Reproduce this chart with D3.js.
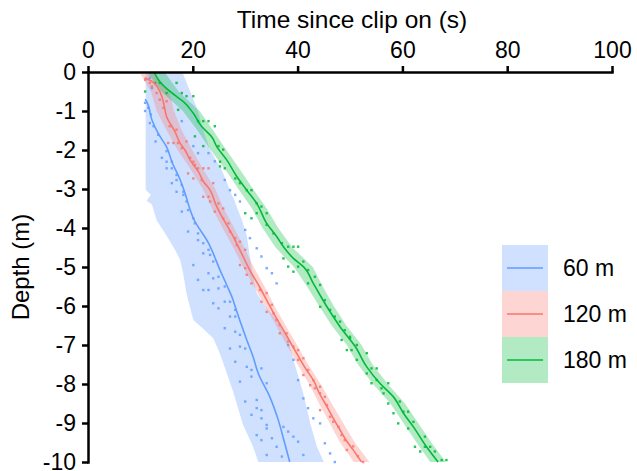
<!DOCTYPE html>
<html>
<head>
<meta charset="utf-8">
<style>
body { margin: 0; background: #fff; }
svg text { font-family: "Liberation Sans", Arial, sans-serif; fill: #000; }
.axis path, .axis line { stroke: #000; stroke-width: 2.5; }
</style>
</head>
<body>
<svg id="chart" width="637" height="471"></svg>
<script src="https://cdn.jsdelivr.net/npm/d3@7"></script>
<script>
// series labels / colours
var seriesNames = ["60 m", "120 m", "180 m"];
var seriesColors = ["#619CFF", "#F8766D", "#00BA38"];
var xTicks = [0, 20, 40, 60, 80, 100];
var yTicks = [0, -1, -2, -3, -4, -5, -6, -7, -8, -9, -10];

// ribbons: [depth, low time, high time]
var band60 = [[0,11.0,18.0],[-0.5,11.0,19.5],[-1,11.0,21.0],[-1.5,11.0,22.0],[-2,11.0,23.3],[-2.5,11.0,25.5],
  [-3,11.0,27.0],[-3.05,11.2,27.2],[-3.15,12.0,27.4],[-3.3,11.2,28.0],[-3.4,12.2,28.2],[-3.8,13.1,29.4],[-4.2,15.0,30.3],
  [-4.56,16.6,30.7],[-4.82,17.6,31.0],[-5.2,18.2,31.4],[-5.67,18.8,32.2],[-6.0,19.4,33.8],[-6.36,20.1,36.0],
  [-6.62,22.3,37.2],[-6.83,23.9,38.0],[-7.13,24.9,38.7],[-7.38,25.6,39.2],[-8.2,27.7,41.0],[-9.05,29.6,42.5],
  [-9.61,31.5,43.7],[-10,32.5,45.0]];
var band120 = [[-0.05,10.0,12.8],[-0.5,12.0,15.5],[-1,13.1,16.4],[-1.5,15.0,17.9],[-2,17.1,19.9],[-2.5,19.6,22.0],
  [-3,21.9,24.3],[-3.5,23.7,25.9],[-4,25.7,27.9],[-4.5,27.7,29.8],[-5,29.6,31.6],[-5.5,31.7,33.7],[-6,33.8,35.6],
  [-6.5,35.9,37.7],[-7,37.9,39.9],[-7.5,40.0,42.0],[-8,42.2,44.4],[-8.5,44.1,46.5],[-9,46.1,48.7],[-9.5,48.1,50.9],
  [-10,50.7,53.7]];
var band180 = [[0,11.3,14.6],[-0.5,14.0,17.3],[-1,18.1,21.3],[-1.5,20.9,23.9],[-2,23.4,26.4],[-2.5,26.2,29.0],
  [-3,28.7,31.5],[-3.5,31.3,34.1],[-4,33.3,36.3],[-4.5,35.8,39.0],[-5,39.3,42.9],[-5.5,41.8,44.8],[-6,44.1,46.9],
  [-6.5,46.5,49.3],[-7,49.4,52.2],[-7.5,51.5,54.3],[-8,54.4,57.2],[-8.5,57.7,60.5],[-9,60.2,63.0],[-9.5,62.7,65.5],
  [-10,65.3,68.3]];

// mean lines: [time, depth]
var line60 = [[10.9,-0.7],[11.2,-0.76],[12.2,-1.23],[13.5,-1.6],[15.0,-1.92],[16.0,-2.3],[17.6,-2.77],[18.5,-3.1],
  [19.5,-3.54],[20.1,-3.75],[23.0,-4.39],[25.2,-5.08],[26.6,-5.5],[27.7,-5.85],[28.1,-6.02],[30.3,-6.87],
  [31.5,-7.3],[32.5,-7.73],[34.7,-8.33],[36.3,-8.92],[37.5,-9.5],[38.5,-10]];
var line120 = [[10.8,-0.15],[12.3,-0.25],[13.3,-0.4],[14.1,-0.63],[14.6,-0.9],[15.0,-1.15],[16.6,-1.53],[17.6,-1.83],
  [18.5,-2.0],[19.5,-2.26],[21.1,-2.56],[22.0,-2.8],[23.3,-3.03],[24.4,-3.4],[25.2,-3.62],[27.4,-4.14],[29.3,-4.65],
  [31.2,-5.16],[32.7,-5.5],[34.1,-5.85],[35.5,-6.2],[37.3,-6.62],[39.8,-7.21],[41.5,-7.6],[43.0,-7.9],[44.2,-8.25],
  [45.6,-8.58],[46.9,-8.9],[48.1,-9.18],[49.3,-9.45],[50.6,-9.69],[52.2,-10]];
var line180 = [[12.6,0],[13.7,-0.25],[15.3,-0.46],[16.9,-0.63],[18.2,-0.76],[20.1,-1.06],[21.7,-1.4],[23.6,-1.66],
  [24.6,-1.92],[26.5,-2.26],[28.4,-2.68],[30.3,-3.03],[32.2,-3.37],[34.1,-3.88],[36.0,-4.22],[37.3,-4.48],
  [39.2,-4.78],[41.1,-4.99],[43.0,-5.42],[45.6,-6.02],[48.1,-6.53],[51.0,-7.04],[53.2,-7.56],[55.7,-7.98],
  [58.3,-8.33],[60.2,-8.75],[62.1,-9.1],[64.6,-9.61],[66.8,-10]];

// observations: [time, depth]
var pts60 = [[10.9,-0.79],[10.9,-1.0],[11.5,-0.92],[12.0,-1.09],[11.8,-1.31],[12.5,-1.39],[12.9,-1.78],[13.4,-1.61],
  [14.1,-2.2],[15.0,-2.03],[11.8,-0.15],[12.2,-0.41],[17.9,-1.26],[20.1,-1.9],[21.0,-2.08],[23.0,-2.08],[24.2,-2.29],
  [15.0,-2.3],[16.0,-2.3],[15.0,-2.47],[16.0,-2.47],[16.9,-2.64],[16.9,-2.77],[16.0,-2.85],[17.9,-2.9],[16.9,-3.07],
  [18.2,-3.07],[18.2,-3.15],[18.8,-3.32],[17.9,-3.58],[19.1,-3.54],[20.1,-3.75],[20.4,-3.88],[19.1,-4.09],[21.0,-4.14],
  [21.0,-4.31],[22.0,-4.39],[23.0,-4.56],[22.0,-4.65],[23.3,-4.69],[26.1,-2.77],[27.1,-3.03],[28.1,-3.15],[29.0,-3.32],
  [30.0,-4.05],[30.9,-4.26],[32.2,-4.52],[33.1,-4.73],[20.1,-4.95],[23.9,-4.86],[21.0,-5.33],[23.0,-5.16],[23.9,-5.29],
  [24.9,-5.25],[22.0,-5.59],[23.0,-5.59],[24.9,-5.55],[26.1,-5.5],[23.9,-5.93],[26.1,-5.89],[27.1,-5.89],[24.9,-6.06],
  [28.1,-6.1],[27.1,-6.27],[28.1,-6.27],[26.1,-6.57],[28.1,-6.66],[29.0,-6.74],[27.1,-7.09],[29.0,-7.04],[30.0,-7.09],
  [34.1,-5.03],[35.1,-5.16],[36.0,-5.42],[38.2,-7.0],[28.1,-7.43],[30.3,-7.56],[31.2,-7.64],[33.1,-7.6],[31.2,-7.81],
  [29.0,-7.94],[34.1,-7.98],[30.0,-8.45],[32.2,-8.41],[32.2,-8.62],[33.1,-8.67],[31.2,-8.79],[33.1,-8.88],[34.1,-9.05],
  [34.1,-9.14],[37.3,-9.1],[38.2,-9.22],[32.2,-9.31],[35.1,-9.39],[33.1,-9.44],[39.2,-9.35],[40.1,-9.48],[36.0,-9.61],
  [34.1,-9.82],[37.0,-9.86],[41.1,-9.82],[39.2,-7.38],[40.1,-7.9],[41.1,-8.37],[42.0,-8.62],[43.0,-8.88],[44.3,-9.01],
  [45.2,-9.52],[46.2,-9.78],[47.1,-10.0]];
var pts120 = [[10.9,-0.2],[11.8,-0.28],[12.2,-0.37],[13.1,-0.54],[13.7,-0.71],[14.4,-0.92],[15.0,-0.75],[15.6,-1.39],
  [15.3,-1.82],[16.3,-1.82],[17.2,-1.82],[17.9,-1.95],[16.9,-1.48],[18.8,-1.78],[19.5,-2.2],[20.4,-2.38],[19.1,-2.6],
  [20.1,-2.73],[20.1,-2.3],[21.0,-2.47],[22.0,-2.47],[23.0,-2.47],[21.7,-2.77],[23.9,-2.85],[22.0,-3.2],[23.0,-3.2],
  [23.3,-3.32],[24.9,-3.37],[24.2,-3.58],[25.8,-3.5],[25.8,-3.75],[26.8,-3.88],[27.1,-4.09],[28.1,-4.26],[29.0,-4.35],
  [28.4,-4.44],[30.0,-4.56],[29.0,-4.95],[30.0,-5.03],[30.3,-5.2],[31.2,-5.42],[32.8,-5.59],[33.1,-5.89],[34.1,-5.67],
  [34.1,-6.15],[35.1,-5.97],[35.4,-6.19],[36.0,-6.36],[36.6,-6.49],[36.6,-6.7],[37.9,-6.7],[38.2,-6.91],[39.2,-7.04],
  [40.1,-7.13],[40.1,-7.38],[41.1,-7.34],[41.1,-7.77],[42.0,-7.64],[43.0,-7.9],[42.4,-8.03],[43.3,-8.11],[44.3,-8.07],
  [44.3,-8.24],[45.2,-8.33],[44.3,-8.67],[45.6,-8.54],[46.2,-8.84],[46.8,-8.97],[47.8,-9.1],[48.4,-9.31],[49.0,-9.44],
  [49.4,-9.69],[50.6,-9.6],[51.5,-9.85],[52.5,-10.0]];
var pts180 = [[10.9,-0.5],[12.8,-0.28],[13.7,-0.28],[15.0,-0.54],[16.9,-0.28],[17.9,-0.54],[18.8,-0.62],[20.1,-0.62],
  [17.2,-0.97],[21.0,-1.26],[22.0,-1.26],[23.0,-1.26],[20.4,-1.65],[22.0,-1.9],[24.2,-1.39],[24.9,-1.9],[25.8,-1.99],
  [25.2,-2.42],[25.2,-2.3],[26.1,-2.47],[28.1,-2.73],[29.0,-2.85],[30.3,-3.03],[31.2,-3.03],[30.0,-3.62],[31.2,-3.75],
  [32.2,-3.37],[33.1,-3.45],[32.2,-3.62],[34.1,-3.62],[34.1,-3.92],[35.4,-4.14],[37.0,-4.39],[37.3,-4.78],[38.2,-4.48],
  [39.2,-4.48],[40.1,-4.48],[38.2,-4.99],[39.2,-5.12],[40.1,-4.99],[41.1,-4.86],[42.0,-5.08],[43.3,-5.25],[44.3,-5.46],
  [42.0,-5.42],[45.2,-5.85],[44.3,-6.02],[46.2,-6.1],[47.1,-6.27],[48.1,-6.4],[49.0,-6.62],[50.0,-6.79],[48.4,-6.87],
  [51.3,-7.0],[49.4,-7.13],[50.3,-7.13],[51.3,-7.38],[50.0,-6.83],[53.2,-7.21],[53.2,-7.73],[54.1,-7.6],[55.1,-7.6],
  [54.1,-7.98],[55.1,-7.9],[56.0,-8.11],[56.4,-8.24],[57.3,-7.98],[57.3,-8.5],[58.3,-8.75],[59.2,-9.01],[59.5,-8.45],
  [60.2,-8.71],[61.1,-8.71],[61.1,-9.14],[62.1,-8.97],[64.3,-9.35],[62.4,-9.61],[63.4,-9.73],[64.3,-9.61],[65.3,-9.61],
  [66.2,-9.73],[67.5,-9.95],[68.4,-9.95]];

var svg = d3.select("#chart");

var x = d3.scaleLinear().domain([0, 100]).range([88, 612]);
var y = d3.scaleLinear().domain([0, -10]).range([72, 462]);

var bands = [band60, band120, band180];
var lines = [line60, line120, line180];
var pts = [pts60, pts120, pts180];

var area = d3.area()
  .y(function (d) { return y(d[0]); })
  .x0(function (d) { return x(d[1]); })
  .x1(function (d) { return x(d[2]); });

var line = d3.line()
  .x(function (d) { return x(d[0]); })
  .y(function (d) { return y(d[1]); })
  .curve(d3.curveMonotoneY);

var plot = svg.append("g");

bands.forEach(function (b, i) {
  plot.append("path")
    .attr("d", area(b))
    .attr("fill", seriesColors[i])
    .attr("fill-opacity", 0.3);
});

pts.forEach(function (p, i) {
  plot.selectAll(null)
    .data(p)
    .enter()
    .append("rect")
      .attr("x", function (d) { return x(d[0]) - 1.2; })
      .attr("y", function (d) { return y(d[1]) - 1.2; })
      .attr("width", 2.4)
      .attr("height", 2.4)
      .attr("fill", seriesColors[i])
      .attr("fill-opacity", 0.85);
});

lines.forEach(function (l, i) {
  plot.append("path")
    .attr("d", line(l))
    .attr("fill", "none")
    .attr("stroke", seriesColors[i])
    .attr("stroke-width", 1.6);
});

// axes
var fmt = function (d) { return String(d); };

svg.append("g")
  .attr("class", "axis")
  .attr("transform", "translate(0,72)")
  .call(d3.axisTop(x).tickValues(xTicks).tickSize(6).tickSizeOuter(0).tickPadding(8).tickFormat(fmt))
  .call(function (g) { g.selectAll("text").attr("font-size", 23).attr("font-family", null); });

svg.append("g")
  .attr("class", "axis")
  .attr("transform", "translate(88,0)")
  .call(d3.axisLeft(y).tickValues(yTicks).tickSize(6).tickSizeOuter(0).tickPadding(6).tickFormat(fmt))
  .call(function (g) { g.selectAll("text").attr("font-size", 23).attr("font-family", null); });

svg.selectAll(".axis .domain").attr("stroke-linecap", "square");

svg.append("text")
  .attr("x", 352)
  .attr("y", 28)
  .attr("text-anchor", "middle")
  .attr("font-size", 24.5)
  .text("Time since clip on (s)");

svg.append("text")
  .attr("transform", "translate(29,267) rotate(-90)")
  .attr("text-anchor", "middle")
  .attr("font-size", 24)
  .text("Depth (m)");

// legend
var legend = svg.append("g").attr("transform", "translate(502,245)");
var keyH = 46;
seriesNames.forEach(function (name, i) {
  var g = legend.append("g").attr("transform", "translate(0," + (i * keyH) + ")");
  g.append("rect")
    .attr("width", 46)
    .attr("height", keyH)
    .attr("fill", seriesColors[i])
    .attr("fill-opacity", 0.3);
  g.append("line")
    .attr("x1", 5).attr("x2", 41)
    .attr("y1", keyH / 2).attr("y2", keyH / 2)
    .attr("stroke", seriesColors[i])
    .attr("stroke-width", 1.6);
  g.append("text")
    .attr("x", 61)
    .attr("y", keyH / 2 + 8)
    .attr("font-size", 23)
    .text(name);
});
</script>
</body>
</html>
